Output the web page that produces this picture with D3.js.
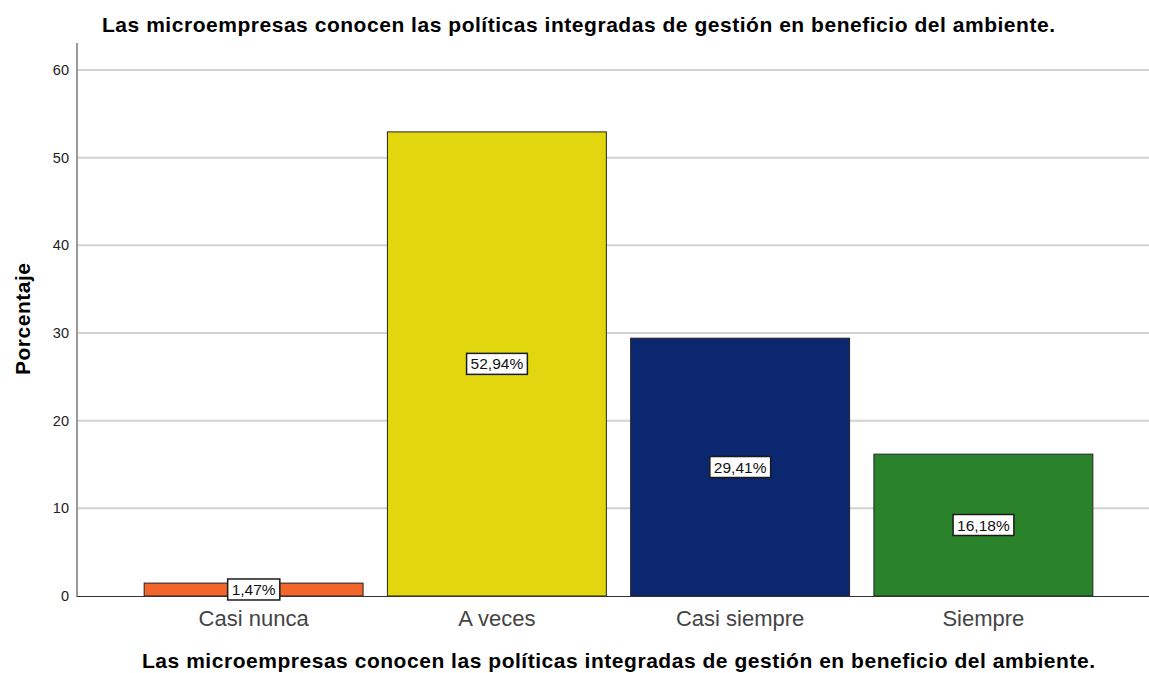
<!DOCTYPE html>
<meta charset="utf-8">
<style>
body { margin: 0; background: #fff; }
text { font-family: "Liberation Sans", Arial, sans-serif; }
</style>
<body>
<script src="https://d3js.org/d3.v7.min.js"></script>
<script>
var categories = ["Casi nunca", "A veces", "Casi siempre", "Siempre"];
var values = [1.47, 52.94, 29.41, 16.18];
var colors = ["#f2652b", "#e2d70f", "#0b276f", "#2a832a"];
var yTicks = [0, 10, 20, 30, 40, 50, 60];

var width = 1149, height = 673;
var title = "Las microempresas conocen las políticas integradas de gestión en beneficio del ambiente.";

var svg = d3.select("body").append("svg")
    .attr("width", width)
    .attr("height", height);

var x = d3.scaleBand()
    .domain(categories)
    .range([132, 1105])
    .paddingInner(0.1)
    .paddingOuter(0.05);

var y = d3.scaleLinear()
    .domain([0, 60])
    .range([596, 70]);

// gridlines
svg.append("g")
  .selectAll("line")
  .data(yTicks.filter(function(d) { return d > 0; }))
  .join("line")
    .attr("x1", 78).attr("x2", width)
    .attr("y1", function(d) { return y(d); })
    .attr("y2", function(d) { return y(d); })
    .attr("stroke", "#d2d2d2")
    .attr("stroke-width", 2);

// y axis
var yAxis = svg.append("g")
    .attr("transform", "translate(77,0)")
    .call(d3.axisLeft(y).tickValues(yTicks).tickSize(0).tickPadding(8));
yAxis.select(".domain").remove();
yAxis.selectAll("text").attr("font-size", 14.5).attr("fill", "#222")
    .style("font-family", "Liberation Sans, Arial, sans-serif");
svg.append("line")
    .attr("x1", 77).attr("x2", 77)
    .attr("y1", 43).attr("y2", 597)
    .attr("stroke", "#9a9a9a").attr("stroke-width", 2);

// bars
svg.append("g")
  .selectAll("rect")
  .data(values)
  .join("rect")
    .attr("x", function(d, i) { return x(categories[i]); })
    .attr("y", function(d) { return y(d); })
    .attr("width", x.bandwidth())
    .attr("height", function(d) { return y(0) - y(d); })
    .attr("fill", function(d, i) { return colors[i]; })
    .attr("stroke", "#222")
    .attr("stroke-width", 1);

// baseline
svg.append("line")
    .attr("x1", 77).attr("x2", width)
    .attr("y1", 596.5).attr("y2", 596.5)
    .attr("stroke", "#333").attr("stroke-width", 1.2);

// value labels
var lab = svg.append("g")
  .selectAll("g")
  .data(values)
  .join("g")
    .attr("transform", function(d, i) {
      return "translate(" + (x(categories[i]) + x.bandwidth() / 2) + "," + ((y(d) + y(0)) / 2) + ")";
    });
lab.append("text")
    .attr("text-anchor", "middle")
    .attr("dy", "0.35em")
    .attr("font-size", 15.5)
    .attr("fill", "#111")
    .text(function(d) { return d.toFixed(2).replace(".", ",") + "%"; })
    .each(function() {
      var b = this.getBBox();
      d3.select(this.parentNode).insert("rect", "text")
        .attr("x", b.x - 4).attr("y", b.y - 2)
        .attr("width", b.width + 8).attr("height", b.height + 4)
        .attr("fill", "#fff").attr("stroke", "#1a1a1a").attr("stroke-width", 1.5);
    });

// category labels
svg.append("g")
  .selectAll("text")
  .data(categories)
  .join("text")
    .attr("x", function(d) { return x(d) + x.bandwidth() / 2; })
    .attr("y", 626)
    .attr("text-anchor", "middle")
    .attr("font-size", 22)
    .attr("fill", "#444")
    .text(function(d) { return d; });

// titles
svg.append("text")
    .attr("x", 102).attr("y", 32)
    .attr("font-size", 21).attr("font-weight", "bold")
    .attr("textLength", 953).attr("lengthAdjust", "spacing")
    .text(title);
svg.append("text")
    .attr("x", 142).attr("y", 668)
    .attr("font-size", 21).attr("font-weight", "bold")
    .attr("textLength", 953).attr("lengthAdjust", "spacing")
    .text(title);
svg.append("text")
    .attr("transform", "translate(30,375) rotate(-90)")
    .attr("font-size", 21).attr("font-weight", "bold")
    .attr("textLength", 112).attr("lengthAdjust", "spacing")
    .text("Porcentaje");
</script>
</body>
